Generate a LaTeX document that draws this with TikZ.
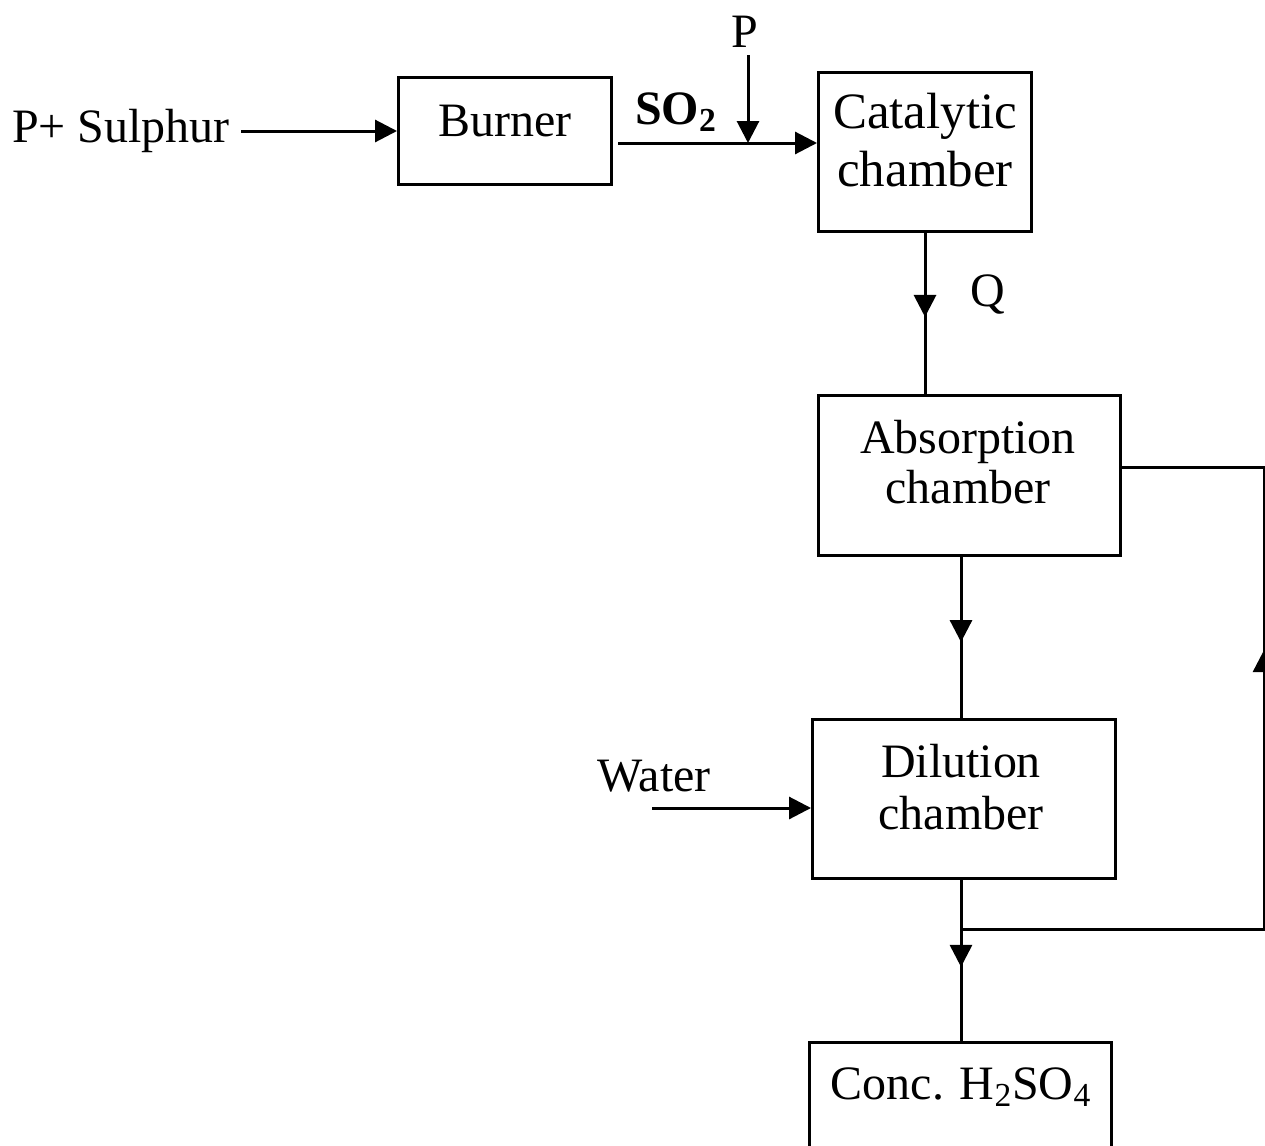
\documentclass[tikz,border=0pt]{standalone}
\usepackage{fontspec}
\setmainfont{Liberation Serif}
\usetikzlibrary{arrows.meta,decorations.markings}
\begin{document}
\begin{tikzpicture}[x=0.02cm,y=-0.02cm,
  line width=0.06cm,
  >={Triangle[length=4.4mm,width=4.4mm]},
  box/.style={draw,line width=0.06cm,inner sep=0pt},
  txt/.style={inner sep=0pt,align=center,font=\fontsize{27.3pt}{28.5pt}\selectfont},
  midarrow/.style={decoration={markings,mark=at position #1 with {\arrow{>}}},postaction={decorate}}]
\clip (0,0) rectangle (1265,1146);
\fill[white] (0,0) rectangle (1265,1146);

% boxes
\node[box,minimum width=4.26cm,minimum height=2.14cm] (burner) at (505,131) {};
\node[box,minimum width=4.26cm,minimum height=3.2cm] (cat) at (925,152) {};
\node[box,minimum width=6.06cm,minimum height=3.2cm] (abs) at (969.5,475.5) {};
\node[box,minimum width=6.06cm,minimum height=3.2cm] (dil) at (964,799) {};
\node[box,minimum width=6.06cm,minimum height=3.2cm] (conc) at (960.5,1122) {};

% texts
\node[txt] (burnerT) at (505,121) {Burner};
\node[txt,font=\fontsize{29pt}{33pt}\selectfont] (catT) at (925,140) {Catalytic\\chamber};
\node[txt,font=\fontsize{27.3pt}{28.5pt}\selectfont] (absT) at (968,462) {Absorption\\chamber};
\node[txt,font=\fontsize{27.3pt}{29.6pt}\selectfont] (dilT) at (961,787) {Dilution\\chamber};
\node[txt] (concT) at (961,1087) {Conc. H\textsubscript{2}SO\textsubscript{4}};
\node[txt] (sulphur) at (121,131) {P+ Sulphur};
\node[txt] (water) at (654,776) {Water};
\node[txt] (so2) at (676,112) {\textbf{SO\textsubscript{2}}};
\node[txt] (P) at (745,32) {P};
\node[txt] (Q) at (988,295) {Q};

% connectors
\draw[->,shorten <=0.2cm] (sulphur.east) -- (burner.west);
\coordinate (so2s) at (618,143);
\coordinate (so2e) at (cat.west |- so2s);
\draw[->] (so2s) -- (so2e);
\coordinate (ptop) at (748,55);
\coordinate (pj) at (748,143);
\draw[->] (ptop) -- (pj);
\draw[midarrow=0.52] (cat.south) -- (cat.south |- abs.north);
\coordinate (ad) at (961,0);
\draw[midarrow=0.53] (abs.south -| ad) -- (dil.north -| ad);
\draw[midarrow=0.54] (dil.south -| ad) -- (conc.north -| ad);
\coordinate (j) at (961,929);
\coordinate (r1) at (1264,929);
\coordinate (r2) at (1264,467);
\draw[midarrow=11.64cm] (j) -- (r1) -- (r2) -- (abs.east |- r2);
\coordinate (win) at (652,808);
\draw[->] (win) -- (dil.west |- win);
\end{tikzpicture}
\end{document}
